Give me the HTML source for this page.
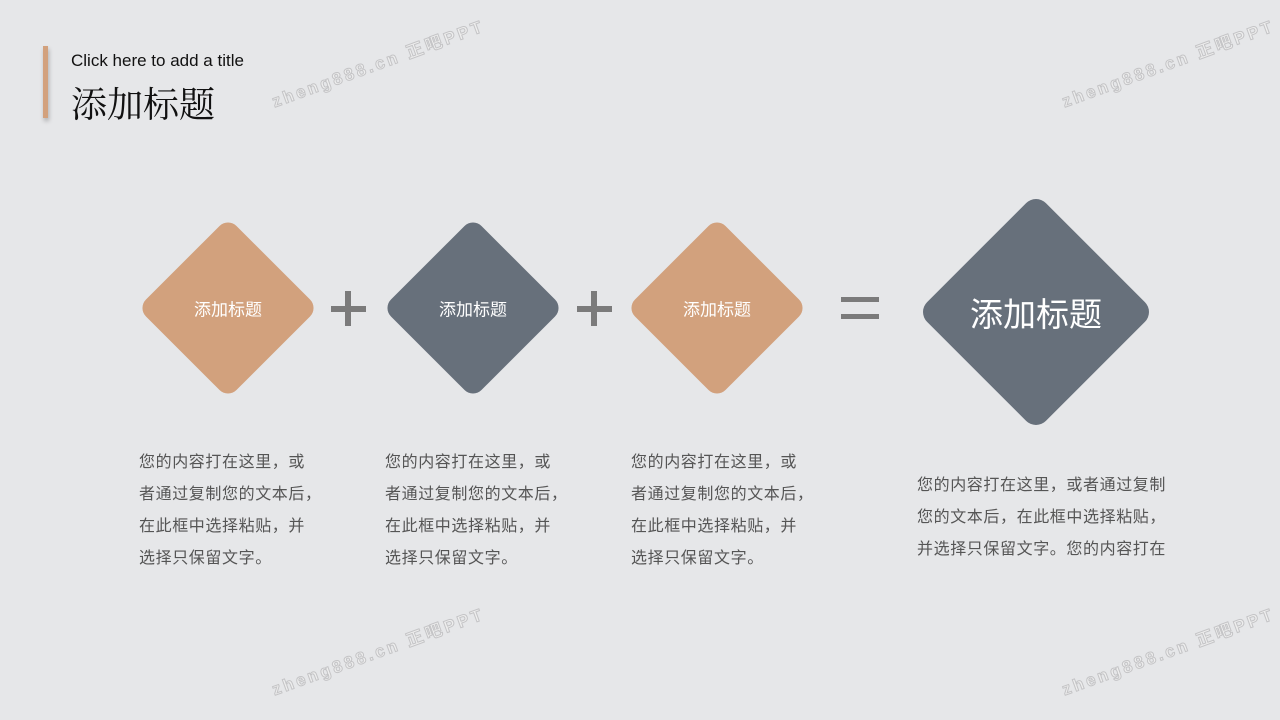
<!DOCTYPE html>
<html><head><meta charset="utf-8"><style>
*{margin:0;padding:0;box-sizing:border-box}
body{width:1280px;height:720px;background:#e6e7e9;position:relative;overflow:hidden;font-family:"Liberation Sans","Noto Sans CJK SC",sans-serif}
.bar{position:absolute;left:43px;top:46px;width:5px;height:72px;background:#d2a17d;box-shadow:1px 3px 4px rgba(0,0,0,.25)}
.en{position:absolute;left:71px;top:51px;font-size:17px;color:#111}
.zh{position:absolute;left:71px;top:77px;font-size:36px;color:#111;font-family:"Liberation Serif","Noto Serif CJK SC",serif}
.d{position:absolute;transform:rotate(45deg);border-radius:12px}
.lab{position:absolute;color:#fff;text-align:center;font-size:17px;transform:translate(-50%,-50%);white-space:nowrap}
.txt{position:absolute;font-size:16px;line-height:32px;color:#555;letter-spacing:0.6px}
.h{position:absolute;background:#7b7b7b}
.wm{position:absolute;font-size:17px;font-weight:bold;letter-spacing:3px;transform:rotate(-20deg);transform-origin:left center;white-space:nowrap;-webkit-text-stroke:1px #c4c4c6;color:#eee}
</style></head><body>
<div class="bar"></div>
<div class="en">Click here to add a title</div>
<div class="zh">添加标题</div>

<div class="wm" style="left:272px;top:88px">zheng888.cn 正吧PPT</div>
<div class="wm" style="left:1062px;top:88px">zheng888.cn 正吧PPT</div>
<div class="wm" style="left:272px;top:676px">zheng888.cn 正吧PPT</div>
<div class="wm" style="left:1062px;top:676px">zheng888.cn 正吧PPT</div>

<div class="d" style="left:164px;top:244px;width:128px;height:128px;background:#d2a17d"></div>
<div class="d" style="left:409px;top:244px;width:128px;height:128px;background:#67707b"></div>
<div class="d" style="left:653px;top:244px;width:128px;height:128px;background:#d2a17d"></div>
<div class="d" style="left:952px;top:228px;width:168px;height:168px;background:#67707b;border-radius:14px"></div>
<div class="lab" style="left:228px;top:308px">添加标题</div>
<div class="lab" style="left:473px;top:308px">添加标题</div>
<div class="lab" style="left:717px;top:308px">添加标题</div>
<div class="lab" style="left:1036px;top:312px;font-size:33px">添加标题</div>

<div class="h" style="left:331px;top:306px;width:35px;height:6px"></div>
<div class="h" style="left:345px;top:291px;width:6px;height:35px"></div>
<div class="h" style="left:577px;top:306px;width:35px;height:6px"></div>
<div class="h" style="left:591px;top:291px;width:6px;height:35px"></div>
<div class="h" style="left:841px;top:297px;width:38px;height:5px"></div>
<div class="h" style="left:841px;top:314px;width:38px;height:5px"></div>

<div class="txt" style="left:139px;top:447px">您的内容打在这里，或<br>者通过复制您的文本后，<br>在此框中选择粘贴，并<br>选择只保留文字。</div>
<div class="txt" style="left:385px;top:447px">您的内容打在这里，或<br>者通过复制您的文本后，<br>在此框中选择粘贴，并<br>选择只保留文字。</div>
<div class="txt" style="left:631px;top:447px">您的内容打在这里，或<br>者通过复制您的文本后，<br>在此框中选择粘贴，并<br>选择只保留文字。</div>
<div class="txt" style="left:917px;top:470px">您的内容打在这里，或者通过复制<br>您的文本后，在此框中选择粘贴，<br>并选择只保留文字。您的内容打在</div>
</body></html>
